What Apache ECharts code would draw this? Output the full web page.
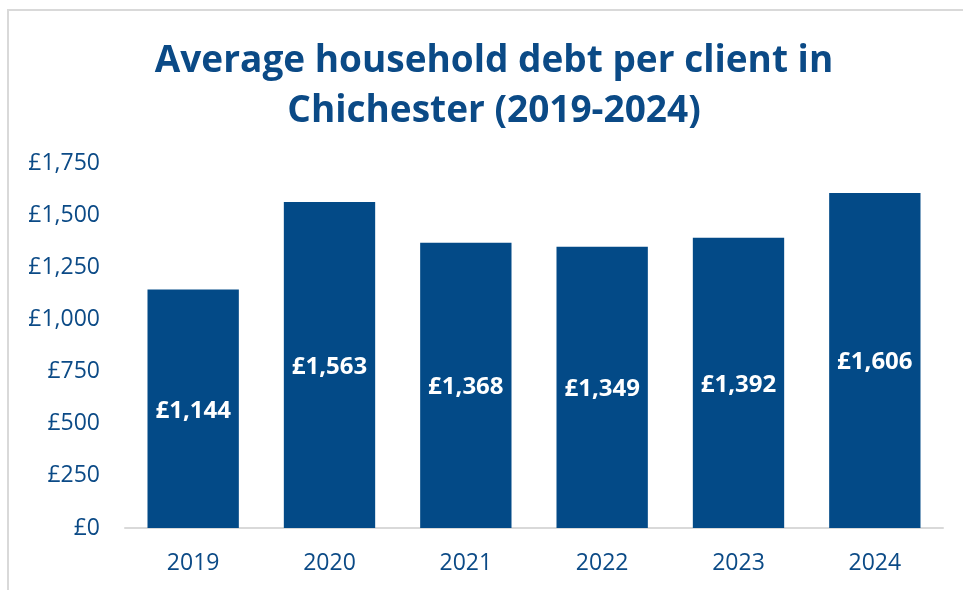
<!DOCTYPE html>
<html>
<head>
<meta charset="utf-8">
<script src="https://cdn.jsdelivr.net/npm/echarts@6/dist/echarts.min.js"></script>
<style>
  html, body { margin: 0; padding: 0; background: #fff; }
  #frame { position: absolute; left: 7px; top: 9px; width: 970px; height: 600px; border: 2px solid #d9d9d9; box-sizing: border-box; }
  #chart { width: 963px; height: 590px; position: absolute; left: 0; top: 0; }
</style>
</head>
<body>
<div id="frame"></div>
<div id="chart"></div>
<script>
const years = ["2019", "2020", "2021", "2022", "2023", "2024"];
const avgDebt = [1144, 1563, 1368, 1349, 1392, 1606];
const yTicks = [0, 250, 500, 750, 1000, 1250, 1500, 1750];

const navy = "#034a87";
const textBlue = "#0b4a86";

function pounds(v) {
  return "£" + Number(v).toLocaleString("en-GB");
}

let chart = echarts.init(document.getElementById("chart"));
chart.setOption({
  animation: false,
  title: {
    text: "Average household debt per client in\nChichester (2019-2024)",
    left: 489,
    textAlign: "center",
    top: 31,
    textStyle: {
      fontFamily: "Open Sans",
      fontWeight: "bold",
      fontSize: 37,
      lineHeight: 50,
      color: textBlue
    }
  },
  grid: {
    left: 125,
    right: 20,
    top: 163,
    bottom: 62
  },
  xAxis: {
    type: "category",
    data: years,
    axisTick: { show: false },
    axisLine: { lineStyle: { color: "#d9d9d9", width: 2 } },
    axisLabel: {
      fontFamily: "Open Sans",
      fontSize: 23,
      color: textBlue,
      margin: 24
    }
  },
  yAxis: {
    type: "value",
    min: yTicks[0],
    max: yTicks[yTicks.length - 1],
    interval: 250,
    splitLine: { show: false },
    axisLine: { show: false },
    axisTick: { show: false },
    axisLabel: {
      fontFamily: "Open Sans",
      fontSize: 23,
      color: textBlue,
      margin: 25,
      formatter: pounds
    }
  },
  series: [
    {
      type: "bar",
      data: avgDebt,
      barWidth: "67%",
      itemStyle: { color: navy },
      label: {
        show: true,
        position: "inside",
        offset: [0, 2],
        fontFamily: "Open Sans",
        fontWeight: "bold",
        fontSize: 24,
        color: "#fff",
        formatter: p => pounds(p.value)
      }
    }
  ]
});
</script>
</body>
</html>
